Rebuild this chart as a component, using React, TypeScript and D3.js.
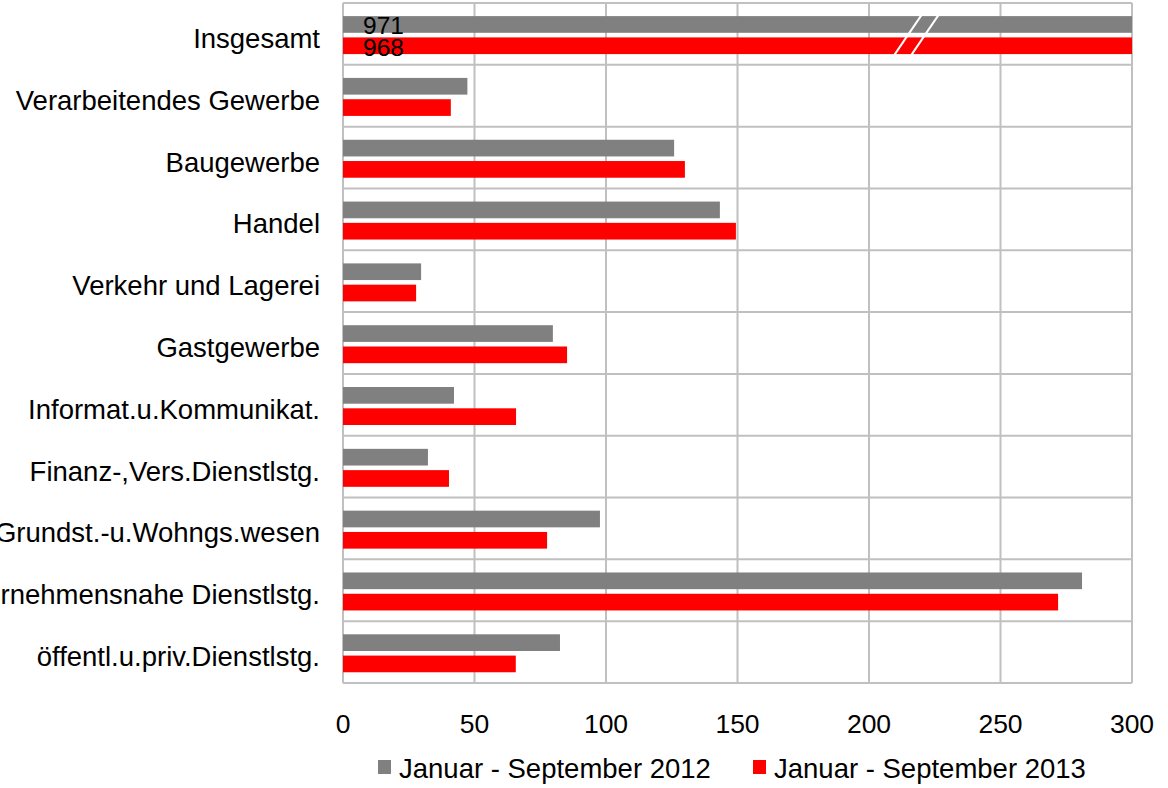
import React from 'react';
import * as d3 from 'd3';

// categories, top to bottom
const categories = [
  'Insgesamt',
  'Verarbeitendes Gewerbe',
  'Baugewerbe',
  'Handel',
  'Verkehr und Lagerei',
  'Gastgewerbe',
  'Informat.u.Kommunikat.',
  'Finanz-,Vers.Dienstlstg.',
  'Grundst.-u.Wohngs.wesen',
  'Unternehmensnahe Dienstlstg.',
  'öffentl.u.priv.Dienstlstg.',
];

const series2012 = [971, 47.3, 125.9, 143.3, 29.7, 79.8, 42.2, 32.3, 97.7, 281, 82.5];
const series2013 = [968, 41, 130, 149.4, 27.8, 85.2, 65.8, 40.3, 77.6, 271.9, 65.7];

const seriesNames = ['Januar - September 2012', 'Januar - September 2013'];
const seriesColors = ['#808080', '#ff0000'];

const xTicks = [0, 50, 100, 150, 200, 250, 300];
const xMax = 300;
const breakValue = 218; // where the "//" marks sit on the Insgesamt bars

const FONT = '"Liberation Sans", Arial, sans-serif';

export default function App() {
  const width = 1168;
  const height = 788;
  const left = 343;
  const right = 1132;
  const top = 3;
  const bottom = 683;

  const x = d3.scaleLinear().domain([0, xMax]).range([left, right]);
  const y = d3.scaleBand<string>().domain(categories).range([top, bottom]).paddingInner(0).paddingOuter(0);
  const inner = d3
    .scaleBand<string>()
    .domain(['2012', '2013'])
    .range([0, y.bandwidth()])
    .paddingInner(0.216)
    .paddingOuter(0.56)
    .align(0.55);

  const values = [series2012, series2013];
  const keys = ['2012', '2013'];

  const gridColor = '#c0c0c0';
  const bandEdges = categories.map(c => y(c) as number).concat([bottom]);

  // break marks on the first category
  const c0 = y(categories[0]) as number;
  const bTop = c0 + (inner('2012') as number) - 1;
  const bBot = c0 + (inner('2013') as number) + inner.bandwidth() + 1;
  const bx = x(breakValue);
  const slant = 0.68 * (bBot - bTop);

  return (
    <svg
      width={width}
      height={height}
      style={{ position: 'absolute', left: 0, top: 0, background: '#fff' }}
      fontFamily={FONT}
    >
      <rect width={width} height={height} fill="#fff" />

      {/* grid */}
      {xTicks.map(t => (
        <line key={'v' + t} x1={x(t)} x2={x(t)} y1={top} y2={bottom} stroke={gridColor} strokeWidth={2} />
      ))}
      {bandEdges.map((e, i) => (
        <line key={'h' + i} x1={left} x2={right} y1={e} y2={e} stroke={gridColor} strokeWidth={2} />
      ))}

      {/* bars */}
      {categories.map((c, i) => (
        <g key={c} transform={`translate(0,${y(c)})`}>
          {keys.map((k, s) => (
            <rect
              key={k}
              x={x(0)}
              y={inner(k)}
              width={x(Math.min(values[s][i], xMax)) - x(0)}
              height={inner.bandwidth()}
              fill={seriesColors[s]}
            />
          ))}
        </g>
      ))}

      {/* axis break */}
      {[-8.5, 8.5].map(o => (
        <line
          key={o}
          x1={bx + o + slant / 2}
          y1={bTop}
          x2={bx + o - slant / 2}
          y2={bBot}
          stroke="#fff"
          strokeWidth={2}
        />
      ))}

      {/* values of the cut bars */}
      {keys.map((k, s) => (
        <text
          key={k}
          x={x(0) + 20}
          y={c0 + (inner(k) as number) + inner.bandwidth() / 2 + 10}
          fontSize={24.5}
          fill="#000"
        >
          {values[s][0]}
        </text>
      ))}

      {/* category labels */}
      {categories.map(c => (
        <text
          key={c}
          x={320}
          y={(y(c) as number) + y.bandwidth() / 2 + 14}
          textAnchor="end"
          fontSize={27.5}
          fill="#000"
        >
          {c}
        </text>
      ))}

      {/* x tick labels */}
      {xTicks.map(t => (
        <text key={t} x={x(t)} y={733} textAnchor="middle" fontSize={26.5} fill="#000">
          {t}
        </text>
      ))}

      {/* legend */}
      {seriesNames.map((n, s) => {
        const lx = s === 0 ? 378 : 753;
        return (
          <g key={n}>
            <rect x={lx} y={760} width={13} height={14} fill={seriesColors[s]} />
            <text x={lx + 21} y={778} fontSize={27.5} fill="#000">
              {n}
            </text>
          </g>
        );
      })}
    </svg>
  );
}
